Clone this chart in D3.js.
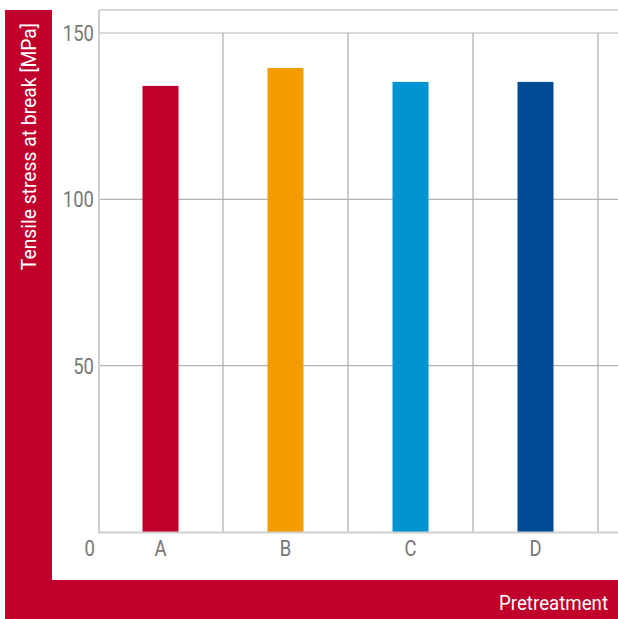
<!DOCTYPE html>
<html>
<head>
<meta charset="utf-8">
<script src="https://cdn.jsdelivr.net/npm/d3@7"></script>
<style>
  html, body { margin: 0; padding: 0; background: #fff; }
  svg { display: block; }
  text { font-family: Roboto, "Liberation Sans", sans-serif; }
</style>
</head>
<body>
<div id="chart"></div>
<script>
// Tensile stress at break per pretreatment
const categories = ["A", "B", "C", "D"];
const values = [134.1, 139.5, 135.3, 135.3];
const barColors = ["#c0002a", "#f39c00", "#0095d0", "#004a96"];
const yTicks = [50, 100, 150];
const yTitle = "Tensile stress at break [MPa]";
const xTitle = "Pretreatment";

const W = 618, H = 619;
const brand = "#c0002a";

const svg = d3.select("#chart").append("svg")
  .attr("width", W).attr("height", H);

// red L-shaped frame holding the axis titles
svg.append("rect").attr("x", 5).attr("y", 10).attr("width", 47).attr("height", H - 10).attr("fill", brand);
svg.append("rect").attr("x", 5).attr("y", 580).attr("width", W - 5).attr("height", H - 580).attr("fill", brand);

const plot = { left: 98, right: 598, top: 10, bottom: 532 };

const x = d3.scaleBand().domain(categories)
  .range([plot.left, plot.right]).paddingInner(0).paddingOuter(0);
const y = d3.scaleLinear().domain([0, 150]).range([plot.bottom, 33]);

const grid = svg.append("g");

// horizontal gridlines
grid.selectAll("line.h").data(yTicks).join("line")
  .attr("class", "h")
  .attr("x1", plot.left).attr("x2", W)
  .attr("y1", d => y(d)).attr("y2", d => y(d))
  .attr("stroke", "#b3b3b3").attr("stroke-width", 1.2);

// vertical separators between categories
grid.selectAll("line.v").data(categories).join("line")
  .attr("class", "v")
  .attr("x1", d => x(d) + x.bandwidth()).attr("x2", d => x(d) + x.bandwidth())
  .attr("y1", y(150)).attr("y2", plot.bottom)
  .attr("stroke", "#ababab").attr("stroke-width", 1.2);

// top border
grid.append("line")
  .attr("x1", 99).attr("x2", W).attr("y1", plot.top).attr("y2", plot.top)
  .attr("stroke", "#b3b3b3").attr("stroke-width", 1.2);

// bars
const barW = 36;
svg.append("g").selectAll("rect").data(values).join("rect")
  .attr("x", (d, i) => x(categories[i]) + x.bandwidth() / 2 - barW / 2)
  .attr("width", barW)
  .attr("y", d => y(d))
  .attr("height", d => y(0) - y(d))
  .attr("fill", (d, i) => barColors[i]);

// left axis and baseline
svg.append("line")
  .attr("x1", 99).attr("x2", 99).attr("y1", plot.top).attr("y2", plot.bottom + 1)
  .attr("stroke", "#cfcfcf").attr("stroke-width", 2);
svg.append("line")
  .attr("x1", 98).attr("x2", W).attr("y1", plot.bottom + 0.5).attr("y2", plot.bottom + 0.5)
  .attr("stroke", "#cfcfcf").attr("stroke-width", 2);

// narrow-set label: Roboto squeezed horizontally
function condText(g, tx, ty, str, anchor, fill, size, squeeze, rotate) {
  const t = g.append("g")
    .attr("transform", `translate(${tx},${ty})` + (rotate ? ` rotate(${rotate})` : "") + ` scale(${squeeze},1)`);
  t.append("text")
    .attr("text-anchor", anchor)
    .attr("fill", fill)
    .attr("font-size", size)
    .text(str);
  return t;
}

// y tick labels
const labels = svg.append("g");
yTicks.forEach(v => condText(labels, 94, y(v) + 8, String(v), "end", "#777", 22, 0.84));
condText(labels, 95, 556, "0", "end", "#777", 22, 0.84);

// category labels
categories.forEach(c => condText(labels, x(c) + x.bandwidth() / 2, 556, c, "middle", "#777", 22, 0.84));

// axis titles
condText(labels, 36, 23, yTitle, "end", "#fff", 21, 0.92, -90);
condText(labels, 608, 610, xTitle, "end", "#fff", 21, 0.89);
</script>
</body>
</html>
